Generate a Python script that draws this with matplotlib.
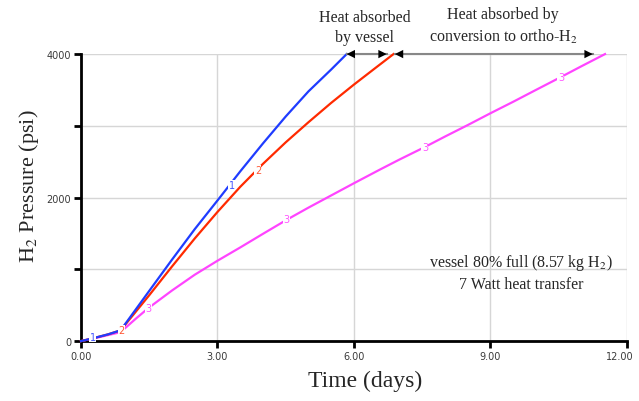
import matplotlib
matplotlib.use("Agg")
import matplotlib.pyplot as plt
import matplotlib.transforms as mtransforms

plt.rcParams["mathtext.fontset"] = "stix"

# curve 1 (blue), 2 (red), 3 (magenta): days vs psi
days_1 = [0.0, 0.3, 0.6, 0.87, 1.5, 2.0, 2.5, 3.05, 3.5, 4.0, 4.5, 5.0, 5.5, 5.84]
psi_1 = [0, 45, 95, 150, 700, 1135, 1560, 2000, 2365, 2755, 3130, 3480, 3785, 4000]

days_2 = [0.0, 0.3, 0.6, 0.87, 1.5, 2.0, 2.5, 3.0, 3.5, 4.0, 4.5, 5.0, 5.5,
          6.0, 6.5, 6.87]
psi_2 = [0, 45, 95, 150, 640, 1040, 1430, 1800, 2150, 2470, 2770, 3050, 3320,
         3575, 3820, 4000]

days_3 = [0.0, 0.3, 0.6, 0.87, 1.2, 1.48, 2.0, 2.5, 3.0, 3.5, 4.0, 4.52, 5.0,
          5.5, 6.0, 6.57, 7.0, 7.56, 8.0, 8.5, 9.0, 9.5, 10.0, 10.55, 11.0, 11.52]
psi_3 = [0, 40, 85, 125, 310, 460, 705, 925, 1120, 1305, 1495, 1690, 1860,
         2030, 2200, 2390, 2530, 2705, 2850, 3010, 3175, 3335, 3500, 3680, 3830, 4000]

# curve number labels (x, y)
labels_1 = [(0.26, 56), (3.31, 2175)]
labels_2 = [(0.88, 150), (3.89, 2380)]
labels_3 = [(1.48, 460), (4.52, 1700), (7.56, 2705), (10.55, 3680)]

x_ticks = [0, 3, 6, 9, 12]
x_ticklabels = ["0.00", "3.00", "6.00", "9.00", "12.00"]
y_ticks = [0, 1000, 2000, 3000, 4000]
y_ticklabels = ["0", "", "2000", "", "4000"]

vessel_span = (5.84, 6.72)
ortho_span = (6.90, 11.25)

serif = "Liberation Serif"
text_col = "#262626"

fig = plt.figure(figsize=(6.39, 4.02), dpi=100)
ax = fig.add_axes([0.1268, 0.149, 0.8542, 0.714])

ax.plot(days_3, psi_3, color="#ff44ff", lw=1.6, clip_on=False, zorder=3)
ax.plot(days_2, psi_2, color="#ff2a00", lw=1.6, clip_on=False, zorder=4)
ax.plot(days_1, psi_1, color="#1f3cff", lw=1.6, clip_on=False, zorder=5)

for labs, txt, col in [(labels_1, "1", "#4455ff"), (labels_2, "2", "#ff5533"),
                       (labels_3, "3", "#ff55ff")]:
    for lx, ly in labs:
        ax.text(lx, ly, txt, color=col, fontsize=7, ha="center", va="center",
                zorder=6, bbox=dict(facecolor="white", edgecolor="none", pad=0.3))

ax.set_xlim(0, 12)
ax.set_ylim(0, 4000)
ax.set_xticks(x_ticks)
ax.set_xticklabels(x_ticklabels)
ax.set_yticks(y_ticks)
ax.set_yticklabels(y_ticklabels)
ax.tick_params(direction="out", length=5, width=2, labelsize=7,
               labelcolor="#3a3a3a", pad=2)
ax.grid(True, color="#d6d6d6", lw=1)
ax.set_axisbelow(True)
for side in ["top", "right"]:
    ax.spines[side].set_visible(False)
for side in ["left", "bottom"]:
    ax.spines[side].set_linewidth(2)

# keep the last x label inside the figure
last = ax.get_xticklabels()[-1]
last.set_transform(last.get_transform() +
                   mtransforms.ScaledTranslation(-7 / 100, 0, fig.dpi_scale_trans))

ax.set_xlabel("Time (days)", fontsize=17, family=serif, color=text_col)
ax.xaxis.set_label_coords(0.52, -0.10)
ax.set_ylabel("H$_2$ Pressure (psi)", fontsize=16, family=serif, color=text_col)
ax.yaxis.set_label_coords(-0.073, 0.544)

# arrows along the top
for x0, x1 in [vessel_span, ortho_span]:
    ax.plot([x0, x1], [4000, 4000], color="#888888", lw=1.5, clip_on=False, zorder=6)
    ax.annotate("", xy=(x1, 4000), xytext=(x0, 4000), annotation_clip=False,
                arrowprops=dict(arrowstyle="<|-|>,head_length=0.6,head_width=0.3",
                                color="black", lw=0, shrinkA=0, shrinkB=0), zorder=7)

ax.text(6.24, 4130, "Heat absorbed\nby vessel", family=serif, fontsize=11.5,
        ha="center", va="bottom", linespacing=1.3, color=text_col)
ax.text(9.28, 4130, "Heat absorbed by\nconversion to ortho-H$_2$", family=serif,
        fontsize=11.5, ha="center", va="bottom", linespacing=1.3, color=text_col)
ax.text(9.67, 960, "vessel 80% full (8.57 kg H$_2$)\n7 Watt heat transfer",
        family=serif, fontsize=11.5, ha="center", va="center", linespacing=1.3,
        color=text_col)

fig.savefig("out.png", dpi=100)
